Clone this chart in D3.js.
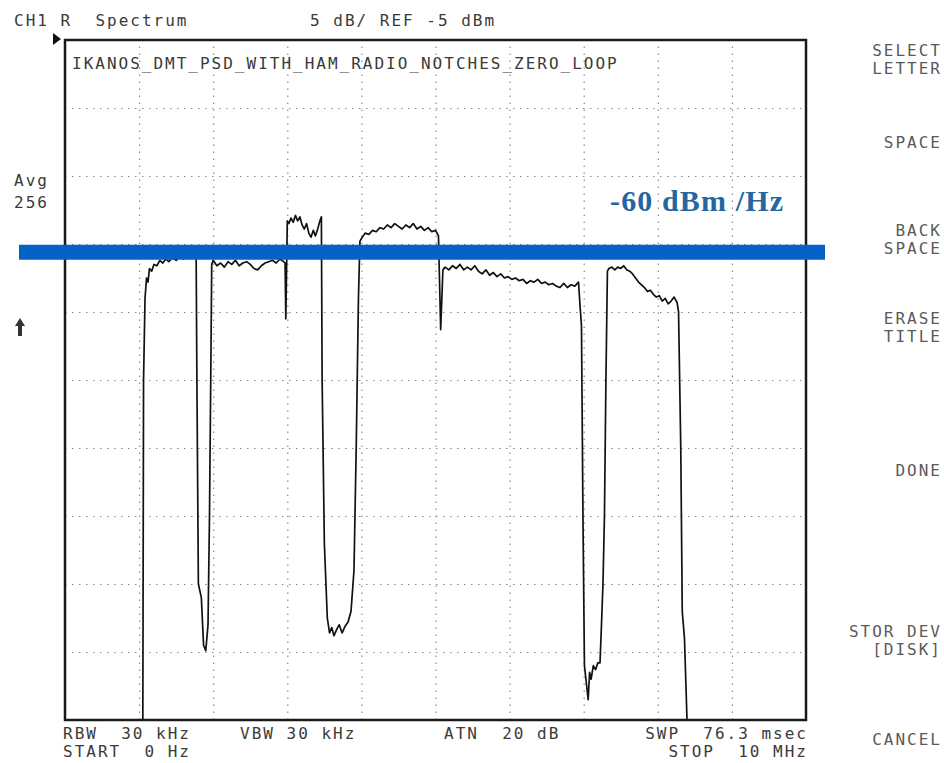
<!DOCTYPE html>
<html>
<head>
<meta charset="utf-8">
<script src="https://cdn.jsdelivr.net/npm/d3@7"></script>
<style>
  html, body { margin: 0; padding: 0; background: #fff; }
  svg text.hp { font-family: "DejaVu Sans Mono", monospace; font-size: 16px; letter-spacing: 2px; fill: #3a3a3a; white-space: pre; }
  svg text.key { fill: #5a5a5a; }
</style>
</head>
<body>
<div id="chart"></div>
<script>
// Trace readings, [frequency MHz, level dBm]
const band1 = [[1.05,-56],[1.06,-30],[1.08,-24],[1.10,-22.5],[1.12,-22.8],[1.14,-21.8],[1.17,-22.0],[1.20,-21.5],[1.24,-21.6],[1.28,-21.2],[1.32,-21.4],[1.36,-21.1],[1.40,-21.3],[1.45,-21.0],[1.50,-21.2],[1.55,-20.9],[1.60,-21.1],[1.65,-20.9],[1.70,-21.0],[1.75,-20.8],[1.77,-21.0]];
const notch160m = [[1.78,-30],[1.80,-45],[1.84,-46],[1.87,-49.5],[1.90,-49.9],[1.93,-48],[1.95,-40],[1.97,-28],[1.98,-21.5]];
const band2 = [[2.00,-21.2],[2.05,-21.6],[2.10,-21.4],[2.15,-21.7],[2.20,-21.3],[2.25,-21.5],[2.30,-21.2],[2.35,-21.6],[2.40,-21.4],[2.45,-21.3],[2.50,-21.5],[2.55,-21.8],[2.60,-21.9],[2.65,-21.6],[2.70,-21.4],[2.75,-21.3],[2.80,-21.2],[2.85,-21.4],[2.90,-21.1],[2.95,-21.3],[2.97,-21.4],[2.98,-25.5],[2.99,-22],[3.00,-18.3]];
const band3 = [[3.02,-18.5],[3.05,-18.1],[3.08,-18.4],[3.11,-17.9],[3.14,-18.3],[3.17,-18.0],[3.20,-18.6],[3.23,-18.9],[3.26,-18.5],[3.29,-19.2],[3.32,-19.5],[3.35,-19.0],[3.38,-19.4],[3.41,-18.9],[3.44,-18.3],[3.46,-18.0]];
const notch80m = [[3.47,-30],[3.50,-42],[3.54,-47.5],[3.57,-48.6],[3.60,-48.2],[3.63,-48.8],[3.67,-48.3],[3.70,-48.0],[3.74,-48.6],[3.78,-48.1],[3.82,-47.8],[3.86,-47.0],[3.90,-44],[3.93,-35],[3.96,-24],[3.98,-19.8]];
const band4 = [[4.00,-19.6],[4.05,-19.2],[4.10,-19.3],[4.15,-19.0],[4.20,-19.1],[4.25,-18.8],[4.30,-18.9],[4.35,-18.6],[4.40,-18.8],[4.45,-18.5],[4.50,-18.7],[4.55,-18.9],[4.60,-18.6],[4.65,-18.8],[4.70,-18.5],[4.75,-18.9],[4.80,-18.7],[4.85,-19.0],[4.90,-18.8],[4.95,-19.1],[5.00,-19.0],[5.04,-19.4],[5.07,-26.3],[5.10,-21.9]];
const band5 = [[5.13,-21.7],[5.18,-21.9],[5.23,-21.6],[5.28,-21.8],[5.33,-21.5],[5.38,-21.9],[5.43,-21.7],[5.48,-21.9],[5.53,-21.6],[5.58,-22.0],[5.63,-22.2],[5.68,-21.9],[5.73,-22.3],[5.78,-22.1],[5.83,-22.4],[5.88,-22.2],[5.93,-22.5],[5.98,-22.4],[6.03,-22.6],[6.08,-22.5],[6.13,-22.7],[6.18,-22.6],[6.23,-22.9],[6.28,-22.7],[6.33,-22.8],[6.38,-22.6],[6.43,-22.9],[6.48,-22.8],[6.53,-23.0],[6.58,-22.9],[6.63,-23.1],[6.68,-23.2],[6.73,-22.9],[6.78,-23.2],[6.83,-23.0],[6.88,-23.1],[6.93,-22.8]];
const notch40m = [[6.95,-24.5],[6.97,-26],[6.99,-40],[7.01,-51],[7.04,-52.5],[7.06,-53.5],[7.08,-51.5],[7.10,-52.0],[7.13,-51.0],[7.16,-51.3],[7.19,-50.8],[7.22,-50.8],[7.24,-48.0],[7.26,-45],[7.28,-40],[7.30,-30],[7.32,-22.0]];
const band6 = [[7.34,-21.8],[7.38,-21.7],[7.42,-21.9],[7.46,-21.7],[7.50,-21.8],[7.54,-21.6],[7.58,-21.9],[7.62,-22.0],[7.66,-22.2],[7.70,-22.5],[7.74,-22.8],[7.78,-23.0],[7.82,-23.2],[7.86,-23.5],[7.90,-23.4],[7.94,-23.7],[7.98,-23.9],[8.02,-23.8],[8.06,-24.2],[8.10,-24.0],[8.14,-24.4],[8.18,-24.2],[8.22,-23.9],[8.26,-24.3],[8.28,-25],[8.31,-35],[8.33,-47],[8.36,-49],[8.40,-56]];

const refLevel = -5;      // REF -5 dBm
const dbPerDiv = 5;
const spanMHz = [0, 10];
const maskDbm = -20.6;    // drawn -60 dBm/Hz line
const maskLabel = "-60 dBm /Hz";

const headerLeft = "CH1 R  Spectrum";
const headerRight = "5 dB/ REF -5 dBm";
const traceTitle = "IKANOS_DMT_PSD_WITH_HAM_RADIO_NOTCHES_ZERO_LOOP";
const avgLabels = ["Avg", "256"];
const bottomRow1 = [["RBW  30 kHz", 63], ["VBW 30 kHz", 240], ["ATN  20 dB", 444]];
const bottomRow2 = [["START  0 Hz", 63]];
const bottomRight1 = "SWP  76.3 msec";
const bottomRight2 = "STOP  10 MHz";
const softKeys = [[["SELECT", "LETTER"], 56], [["SPACE"], 148], [["BACK", "SPACE"], 236], [["ERASE", "TITLE"], 324], [["DONE"], 476], [["STOR DEV", "[DISK]"], 637], [["CANCEL"], 745]];

const W = 944, H = 763;
const pLeft = 65, pRight = 806, pTop = 40, pBottom = 720;

const svg = d3.select("#chart").append("svg")
  .attr("width", W).attr("height", H);

const x = d3.scaleLinear().domain(spanMHz).range([pLeft, pRight]);
const y = d3.scaleLinear().domain([refLevel - 10 * dbPerDiv, refLevel]).range([pBottom, pTop]);

// graticule
const grid = svg.append("g").attr("class", "grid");
grid.append("g")
  .attr("transform", `translate(0,${pBottom})`)
  .call(d3.axisBottom(x).ticks(10).tickSize(-(pBottom - pTop)).tickFormat(""));
grid.append("g")
  .attr("transform", `translate(${pLeft},0)`)
  .call(d3.axisLeft(y).tickValues(d3.range(refLevel - 10 * dbPerDiv, refLevel + 1, dbPerDiv)).tickSize(-(pRight - pLeft)).tickFormat(""));
grid.selectAll(".domain").remove();
grid.selectAll(".tick line")
  .attr("stroke", "#8a8a8a")
  .attr("stroke-width", 1.2)
  .attr("stroke-dasharray", "1.5,5.5");

// trace
svg.append("clipPath").attr("id", "plot")
  .append("rect").attr("x", pLeft).attr("y", pTop).attr("width", pRight - pLeft).attr("height", pBottom - pTop);

const trace = [].concat(band1, notch160m, band2, band3, notch80m, band4, band5, notch40m, band6);
const line = d3.line().x(d => x(d[0])).y(d => y(d[1]));
svg.append("path")
  .datum(trace)
  .attr("clip-path", "url(#plot)")
  .attr("fill", "none")
  .attr("stroke", "#111")
  .attr("stroke-width", 1.7)
  .attr("stroke-linejoin", "round")
  .attr("d", line);

// border
svg.append("rect")
  .attr("x", pLeft).attr("y", pTop).attr("width", pRight - pLeft).attr("height", pBottom - pTop)
  .attr("fill", "none").attr("stroke", "#1a1a1a").attr("stroke-width", 2.5);

// reference marker and left arrow
svg.append("path").attr("d", "M53,33 L61,39 L53,45 Z").attr("fill", "#111");
svg.append("path").attr("d", "M15,326 L20,318 L25,326 L22,326 L22,336 L18,336 L18,326 Z").attr("fill", "#333");

// text
svg.append("text").attr("class", "hp").attr("x", 14).attr("y", 26).text(headerLeft);
svg.append("text").attr("class", "hp").attr("x", 310).attr("y", 26).text(headerRight);
svg.append("text").attr("class", "hp").attr("x", 72).attr("y", 69).text(traceTitle);
avgLabels.forEach((t, i) => {
  svg.append("text").attr("class", "hp").attr("x", 14).attr("y", 186 + i * 22).text(t);
});

bottomRow1.forEach(([t, px]) => svg.append("text").attr("class", "hp").attr("x", px).attr("y", 739).text(t));
bottomRow2.forEach(([t, px]) => svg.append("text").attr("class", "hp").attr("x", px).attr("y", 757).text(t));
svg.append("text").attr("class", "hp").attr("x", 808).attr("y", 739).attr("text-anchor", "end").text(bottomRight1);
svg.append("text").attr("class", "hp").attr("x", 808).attr("y", 757).attr("text-anchor", "end").text(bottomRight2);

softKeys.forEach(([lines, cy]) => {
  lines.forEach((t, i) => {
    svg.append("text").attr("class", "hp key")
      .attr("x", 942).attr("y", cy + i * 18).attr("text-anchor", "end").text(t);
  });
});

// -60 dBm/Hz annotation
svg.append("line")
  .attr("x1", 19).attr("x2", 825)
  .attr("y1", y(maskDbm)).attr("y2", y(maskDbm))
  .attr("stroke", "#0563c8").attr("stroke-width", 15);
svg.append("text")
  .attr("x", 610).attr("y", y(maskDbm) - 41)
  .attr("textLength", 173)
  .style("font-family", "'Liberation Serif', serif")
  .style("font-weight", "bold")
  .style("font-size", "30px")
  .attr("fill", "#2466a2")
  .text(maskLabel);
</script>
</body>
</html>
